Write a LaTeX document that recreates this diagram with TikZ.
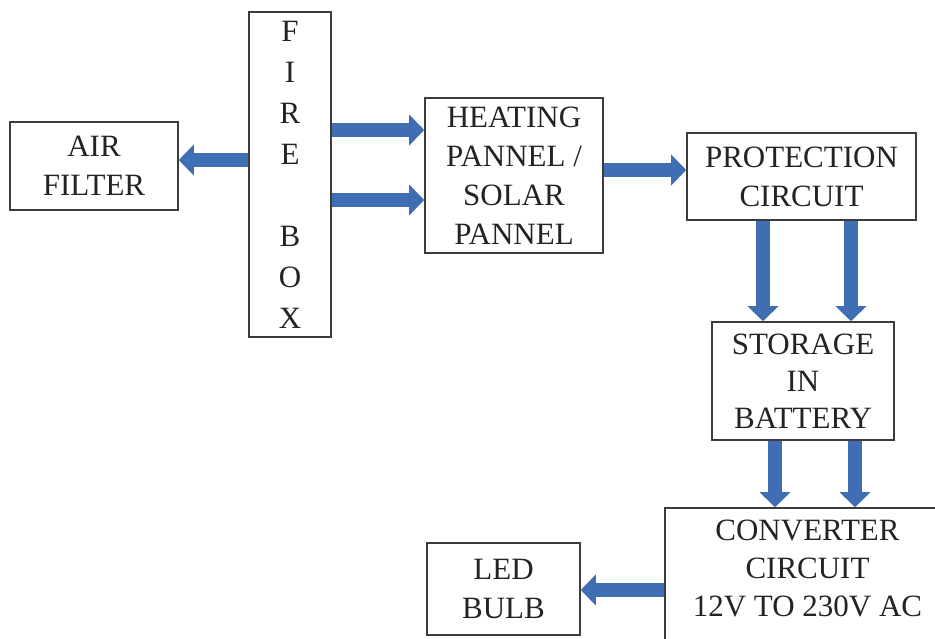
\documentclass[tikz,border=0pt]{standalone}
\usepackage{fontspec}
\setmainfont{Liberation Serif}
\usetikzlibrary{arrows.meta}
\definecolor{arrowblue}{RGB}{64,110,178}
\definecolor{boxline}{RGB}{60,60,60}
\definecolor{txt}{RGB}{35,35,35}
\tikzset{
  blockbox/.style={draw=boxline, line width=1.6pt, rectangle, align=center, text=txt,
    inner sep=0pt, font=\fontsize{31}{39}\selectfont},
  barrow/.style={draw=arrowblue, line width=14pt,
    -{Triangle[width=31pt,length=15pt,line width=0pt]}},
}
\begin{document}
\begin{tikzpicture}[x=1pt,y=-1pt]
\useasboundingbox (0,0) rectangle (935,638);
\clip (0,0) rectangle (935,638);
\fill[white] (0,0) rectangle (935,638);

\node[blockbox, minimum width=168pt, minimum height=88pt] (air) at (94,166) {AIR\\FILTER};
\node[blockbox, minimum width=82pt, minimum height=325pt,
  font=\fontsize{31}{41}\selectfont] (fire) at (290,174.5) {F\\I\\R\\E\\[41pt]B\\O\\X};
\node[blockbox, minimum width=178pt, minimum height=155pt] (heat) at (514,175.5)
  {HEATING\\PANNEL /\\SOLAR\\PANNEL};
\node[blockbox, minimum width=229pt, minimum height=87pt] (prot) at (801.5,176.5)
  {PROTECTION\\CIRCUIT};
\node[blockbox, minimum width=182pt, minimum height=118pt,
  font=\fontsize{31}{37}\selectfont] (stor) at (803,381) {STORAGE\\IN\\BATTERY};
\node[blockbox, minimum width=320pt, minimum height=180pt] (conv) at (825,598) {};
\node[align=center, text=txt, inner sep=0pt, font=\fontsize{31}{38}\selectfont]
  (convtext) at (807.5,568) {CONVERTER\\CIRCUIT\\12V TO 230V AC};
\node[blockbox, minimum width=153pt, minimum height=92pt] (led) at (503.5,589)
  {LED\\BULB};

\draw[barrow] (fire.west |- 0,160) -- (air.east |- 0,160);
\draw[barrow] (fire.east |- 0,130) -- (heat.west |- 0,130);
\draw[barrow] (fire.east |- 0,200) -- (heat.west |- 0,200);
\draw[barrow] (heat.east |- 0,170) -- (prot.west |- 0,170);
\draw[barrow] (prot.south -| 763,0) -- (stor.north -| 763,0);
\draw[barrow] (prot.south -| 851,0) -- (stor.north -| 851,0);
\draw[barrow] (stor.south -| 775,0) -- (conv.north -| 775,0);
\draw[barrow] (stor.south -| 855,0) -- (conv.north -| 855,0);
\draw[barrow] (conv.west |- 0,590) -- (led.east |- 0,590);
\end{tikzpicture}
\end{document}
